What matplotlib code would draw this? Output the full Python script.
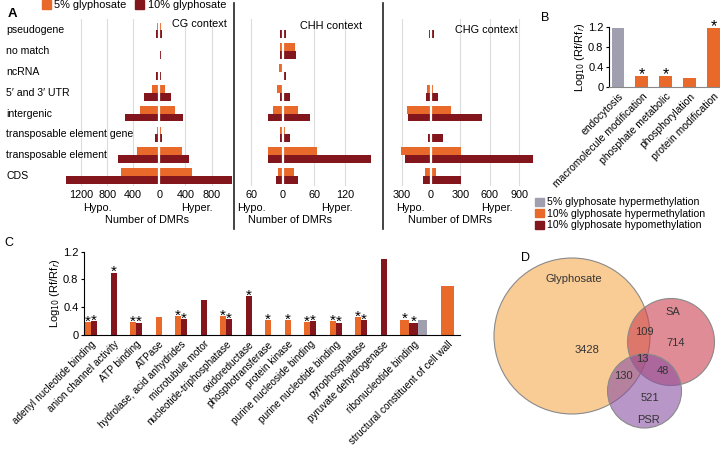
import matplotlib; matplotlib.use("Agg")
import matplotlib.pyplot as plt
import numpy as np
from matplotlib.patches import Circle, Patch
from matplotlib.lines import Line2D

plt.rcParams['font.family'] = ['Liberation Sans', 'DejaVu Sans']

ORANGE = "#E8692A"
DARK = "#82161C"
GRAY = "#A09FB0"
nan = np.nan

# --- A: DMR counts per genomic feature (hypo shown left, hyper right) ---
CATS_A = ["pseudogene", "no match", "ncRNA", "5\u2032 and 3\u2032 UTR", "intergenic",
          "transposable element gene", "transposable element", "CDS"]
CG_HYPO5 = [30, 15, 15, 117, 296, 30, 337, 592]
CG_HYPER5 = [20, 15, 15, 87, 240, 20, 342, 495]
CG_HYPO10 = [50, 15, 50, 235, 520, 66, 638, 1430]
CG_HYPER10 = [35, 20, 30, 173, 367, 36, 459, 1117]
CHH_HYPO5 = [2, 6, 7, 11.5, 18, 5, 28, 10]
CHH_HYPER5 = [2, 24, 0, 1, 29, 4, 65, 22]
CHH_HYPO10 = [5, 6, 1, 5, 28, 5, 28, 13]
CHH_HYPER10 = [6, 26, 6, 14, 52, 13, 169, 29]
CHG_HYPO5 = [10, 10, 15, 44, 249, 8, 307, 61]
CHG_HYPER5 = [10, 10, 5, 24, 205, 10, 307, 51]
CHG_HYPO10 = [17, 10, 5, 51, 232, 27, 266, 78]
CHG_HYPER10 = [31, 10, 10, 68, 519, 119, 1043, 307]

# --- B: enrichment ---
CATS_B = ["endocytosis", "macromolecule modification", "phosphate metabolic",
          "phosphorylation", "protein modification"]
B_VALS = [1.17, 0.22, 0.22, 0.185, 1.17]
B_GROUP = ["5h", "10h", "10h", "10h", "10h"]
B_STAR = [0, 1, 1, 0, 1]

# --- C: enrichment per molecular function ---
CATS_C = ["adenyl nucleotide binding", "anion channel activity", "ATP binding", "ATPase",
          "hydrolase, acid anhydrides", "microtubule motor", "nucleotide-triphosphatase",
          "oxidoreductase", "phosphotransferase", "protein kinase",
          "purine nucleoside binding", "purine nucleotide binding", "pyrophosphatase",
          "pyruvate dehydrogenase", "ribonucleotide binding",
          "structural constituent of cell wall"]
C_HYPER10 = [0.19, nan, 0.19, 0.26, 0.27, nan, 0.27, nan, 0.21, 0.21, 0.185, 0.20, 0.26, nan, 0.22, 0.70]
C_HYPO10 = [0.20, 0.90, 0.18, nan, 0.23, 0.51, 0.23, 0.56, nan, nan, 0.20, 0.18, 0.215, 1.10, 0.18, nan]
C_HYPER5 = [nan] * 14 + [0.22, nan]
C_STAR_HYPER10 = [1, 0, 1, 0, 1, 0, 1, 0, 1, 1, 1, 1, 1, 0, 1, 0]
C_STAR_HYPO10 = [1, 1, 1, 0, 1, 0, 1, 1, 0, 0, 1, 1, 1, 0, 1, 0]
C_BAR_W = [1] * 14 + [1.5, 2.2]   # bar widths as drawn in the original

# --- D: Venn counts ---
VENN_SETS = ["Glyphosate", "SA", "PSR"]
VENN_COUNTS = {"G": 3428, "SA": 714, "PSR": 521, "G&SA": 109, "G&PSR": 130, "SA&PSR": 48, "all": 13}

W, H = 720, 455
fig = plt.figure(figsize=(W / 100, H / 100), dpi=100)


def box(l, t, r, b):
    return [l / W, 1 - b / H, (r - l) / W, (b - t) / H]


def ftext(x, y, s, **kw):
    fig.text(x / W, 1 - y / H, s, **kw)


# ---------------- Panel A ----------------
yA = np.arange(len(CATS_A))
hb = 0.375
panels = [
    (box(64, 19, 233, 186), (-1460, 1129), [-1200, -800, -400, 0, 400, 800],
     CG_HYPO5, CG_HYPER5, CG_HYPO10, CG_HYPER10),
    (box(240, 19, 375, 186), (-82, 177), [-60, 0, 60, 120],
     CHH_HYPO5, CHH_HYPER5, CHH_HYPO10, CHH_HYPER10),
    (box(395, 19, 535, 186), (-368, 1063), [-300, 0, 300, 600, 900],
     CHG_HYPO5, CHG_HYPER5, CHG_HYPO10, CHG_HYPER10),
]
axesA = []
for rect, xl, ticks, ho5, hr5, ho10, hr10 in panels:
    ax = fig.add_axes(rect)
    for t in ticks:
        if t != 0:
            ax.axvline(t, color="#dcdcdc", lw=0.8, zorder=0)
    ax.barh(yA - hb / 2, -np.array(ho5), hb, color=ORANGE, zorder=2)
    ax.barh(yA - hb / 2, hr5, hb, color=ORANGE, zorder=2)
    ax.barh(yA + hb / 2, -np.array(ho10), hb, color=DARK, zorder=2)
    ax.barh(yA + hb / 2, hr10, hb, color=DARK, zorder=2)
    ax.axvline(0, color="white", lw=1.6, zorder=3)
    ax.set_xlim(*xl)
    ax.set_ylim(7.48, -0.55)
    ax.set_xticks(ticks)
    ax.set_xticklabels([str(abs(t)) for t in ticks], fontsize=7.8)
    ax.tick_params(axis="x", length=0, pad=3)
    ax.set_yticks([])
    for s in ax.spines.values():
        s.set_visible(False)
    axesA.append(ax)

axCG = axesA[0]
for i, c in enumerate(CATS_A):
    axCG.text(-0.343, i, c, transform=axCG.get_yaxis_transform(), ha="left",
              va="center", fontsize=7.6)

ftext(227, 24, "CG context", ha="right", va="center", fontsize=7.8)
ftext(331, 26, "CHH context", ha="center", va="center", fontsize=7.8)
ftext(486, 30, "CHG context", ha="center", va="center", fontsize=7.8)
for xh, xr, xn in [(97, 197, 147), (251, 337, 290), (410, 497, 450)]:
    ftext(xh, 208, "Hypo.", ha="center", va="center", fontsize=7.8)
    ftext(xr, 208, "Hyper.", ha="center", va="center", fontsize=7.8)
    ftext(xn, 220, "Number of DMRs", ha="center", va="center", fontsize=7.8)
for xs in (234, 383):
    fig.add_artist(Line2D([xs / W, xs / W], [1 - 3 / H, 1 - 229 / H], color="#222222", lw=1.2))

fig.legend(handles=[Patch(color=ORANGE, label="5% glyphosate"),
                    Patch(color=DARK, label="10% glyphosate")],
           loc="upper left", bbox_to_anchor=(38 / W, 1 + 4 / H), ncol=2, frameon=False,
           fontsize=7.9, handlelength=0.8, handleheight=0.8, handletextpad=0.3,
           columnspacing=0.8, borderaxespad=0)
ftext(8, 14, "A", fontweight="bold", fontsize=9.5, va="center")

# ---------------- Panel B ----------------
colmap = {"5h": GRAY, "10h": ORANGE, "10o": DARK}
axB = fig.add_axes(box(609, 26.7, 720, 87.3))
xB = np.arange(len(CATS_B))
axB.bar(xB, B_VALS, 0.54, color=[colmap[g] for g in B_GROUP])
for x, v, s in zip(xB, B_VALS, B_STAR):
    if s:
        axB.annotate("*", (x, v), xytext=(0, -2), textcoords="offset points",
                     ha="center", va="baseline", fontsize=11.5)
axB.set_xlim(-0.377, 4.27)
axB.set_ylim(0, 1.2)
axB.set_yticks([0, 0.4, 0.8, 1.2])
axB.set_yticklabels(["0", "0.4", "0.8", "1.2"], fontsize=8)
axB.set_xticks(xB)
axB.set_xticklabels(CATS_B, rotation=45, ha="right", rotation_mode="anchor", fontsize=7.5)
axB.tick_params(axis="x", length=0, pad=3)
axB.tick_params(axis="y", length=2.5, pad=1.5)
axB.spines["top"].set_visible(False)
axB.spines["right"].set_visible(False)
axB.spines["bottom"].set_color("#888888")
axB.set_ylabel(r"Log$_{10}$ (Rf/Rf$_r$)", fontsize=8, labelpad=1)
ftext(541, 18, "B", fontsize=9, va="center")

fig.legend(handles=[Patch(color=GRAY, label="5% glyphosate hypermethylation"),
                    Patch(color=ORANGE, label="10% glyphosate hypermethylation"),
                    Patch(color=DARK, label="10% glyphosate hypomethylation")],
           loc="upper left", bbox_to_anchor=(531 / W, 1 - 193 / H), frameon=False,
           fontsize=7.6, handlelength=0.8, handleheight=0.8, handletextpad=0.3,
           labelspacing=0.15, borderaxespad=0)

# ---------------- Panel C ----------------
axC = fig.add_axes(box(84, 251.7, 460, 335))
gap = 2.25
pos = 0.0
centers = []
for i in range(len(CATS_C)):
    w = C_BAR_W[i]
    series = [(C_HYPER10[i], ORANGE, C_STAR_HYPER10[i]),
              (C_HYPO10[i], DARK, C_STAR_HYPO10[i]),
              (C_HYPER5[i], GRAY, 0)]
    start = pos
    for v, col, st in series:
        if np.isnan(v):
            continue
        axC.bar(pos + w / 2, v, w, color=col)
        if st:
            axC.annotate("*", (pos + w / 2, v), xytext=(0, -2.5), textcoords="offset points",
                         ha="center", va="baseline", fontsize=11)
        pos += w
    centers.append((start + pos) / 2)
    pos += gap
axC.set_xlim(-0.17, 62.5)
axC.set_ylim(0, 1.2)
axC.set_yticks([0, 0.4, 0.8, 1.2])
axC.set_yticklabels(["0", "0.4", "0.8", "1.2"], fontsize=8)
axC.set_xticks(centers)
axC.set_xticklabels(CATS_C, rotation=45, ha="right", rotation_mode="anchor", fontsize=7.2)
axC.tick_params(axis="x", length=0, pad=3)
axC.tick_params(axis="y", length=2.5, pad=1.5)
axC.spines["top"].set_visible(False)
axC.spines["right"].set_visible(False)
axC.set_ylabel(r"Log$_{10}$ (Rf/Rf$_r$)", fontsize=8, labelpad=1)
ftext(4, 243, "C", fontsize=9, va="center")

# ---------------- Panel D (Venn) ----------------
axD = fig.add_axes(box(480, 250, 720, 440))
axD.set_xlim(480, 720)
axD.set_ylim(440, 250)
axD.set_aspect("equal")
axD.axis("off")
for (cx, cy, r), col in [((572, 336, 78), "#F5AA50"),
                         ((671, 342, 43.5), "#CB3F50"),
                         ((644.5, 391, 37), "#8A50A3")]:
    axD.add_patch(Circle((cx, cy), r, facecolor=col, alpha=0.6, edgecolor="none"))
    axD.add_patch(Circle((cx, cy), r, facecolor="none", edgecolor="#8a8a8a", lw=0.8))
lab = dict(ha="center", va="center", fontsize=8, color="#333333")
axD.text(574, 279, VENN_SETS[0], **lab)
axD.text(673, 312, VENN_SETS[1], **lab)
axD.text(648, 420, VENN_SETS[2], **lab)
for key, (x, y) in {"G": (587, 350), "SA": (676, 343), "PSR": (650, 398),
                    "G&SA": (644, 332), "G&PSR": (623, 376), "SA&PSR": (663, 371),
                    "all": (642, 359)}.items():
    axD.text(x, y, str(VENN_COUNTS[key]), **lab)
ftext(521, 258, "D", fontsize=9, va="center")

fig.savefig("out.png", dpi=100)
